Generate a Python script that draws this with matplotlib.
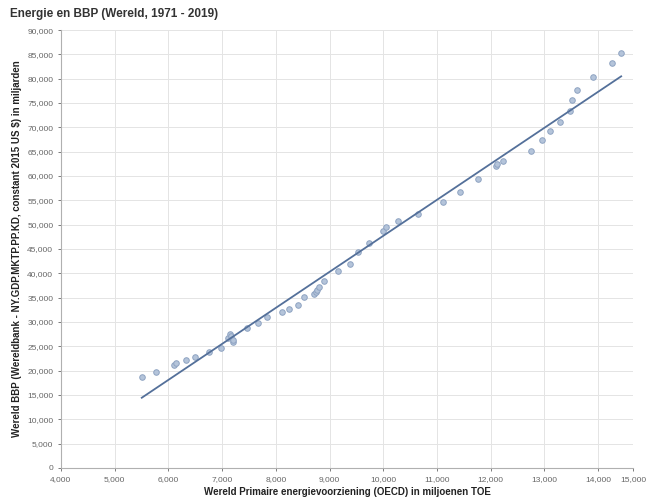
import matplotlib

matplotlib.use("Agg")
import matplotlib.pyplot as plt
import numpy as np

plt.rcParams.update({"font.family": ["Liberation Sans", "DejaVu Sans"]})

ENERGY = [5505, 5765, 6099, 6136, 6322, 6489, 6748, 6989, 7119, 7156, 7175, 7194,
          7212, 7472, 7676, 7843, 8121, 8251, 8418, 8529, 8715, 8752, 8770, 8807,
          8900, 9160, 9382, 9531, 9735, 9995, 10050, 10273, 10644, 11108, 11423,
          11757, 12091, 12109, 12221, 12759, 12963, 13111, 13296, 13482, 13519,
          13612, 13909, 14261, 14428]
GDP = [18746, 19776, 21218, 21630, 22248, 22866, 23896, 24720, 26780, 27604, 27192,
       25956, 26368, 28840, 29870, 31106, 32136, 32754, 33578, 35226, 35844, 36256,
       36668, 37286, 38522, 40376, 41818, 44290, 46144, 48616, 49440, 50676, 52118,
       54590, 56650, 59328, 62006, 62418, 63036, 65096, 67362, 69216, 71070, 73336,
       75602, 77662, 80340, 83224, 85284]

X_TICKS = [4000, 5000, 6000, 7000, 8000, 9000, 10000, 11000, 12000, 13000, 14000]
Y_TICKS = list(range(0, 90001, 5000))
X_MIN, X_MAX = 4040, 14650

TITLE = "Energie en BBP (Wereld, 1971 - 2019)"
XLABEL = "Wereld Primaire energievoorziening (OECD) in miljoenen TOE"
YLABEL = "Wereld BBP (Wereldbank - NY.GDP.MKTP.PP.KD, constant 2015 US $) in miljarden"

x = np.array(ENERGY, dtype=float)
y = np.array(GDP, dtype=float)

fig = plt.figure(figsize=(6.48, 5.01), dpi=100)
ax = fig.add_axes([0.094, 0.066, 0.883, 0.874])

ax.scatter(x, y, s=16, facecolor="#b4c4da", edgecolor="#8ea3c2", linewidth=0.7, zorder=3)

slope, icpt = np.polyfit(x, y, 1)
xs = np.array([x.min(), x.max()])
ax.plot(xs, slope * xs + icpt, color="#54709a", linewidth=1.3, zorder=4)

ax.set_xlim(X_MIN, X_MAX)
ax.set_ylim(0, 90000)
ticks = X_TICKS + [X_MAX]
ax.set_xticks(ticks)
ax.set_xticklabels([f"{round(t, -3):,.0f}" for t in ticks])
ax.set_yticks(Y_TICKS)
ax.set_yticklabels([f"{t:,}" for t in Y_TICKS])
ax.tick_params(labelsize=6, colors="#666666", length=2, width=0.6)

ax.grid(color="#e4e4e4", linewidth=0.7, zorder=0)
for side in ["top", "right"]:
    ax.spines[side].set_visible(False)
for side in ["left", "bottom"]:
    ax.spines[side].set_color("#b0b0b0")
    ax.spines[side].set_linewidth(0.8)

fig.text(0.015, 0.972, TITLE, fontsize=8.5, fontweight="bold", color="#333333",
         ha="left", va="center")
ax.set_xlabel(XLABEL, fontsize=7, fontweight="bold", color="#222222", labelpad=3)
ax.set_ylabel(YLABEL, fontsize=7, fontweight="bold", color="#222222", labelpad=4)

fig.savefig("out.png", dpi=100)
